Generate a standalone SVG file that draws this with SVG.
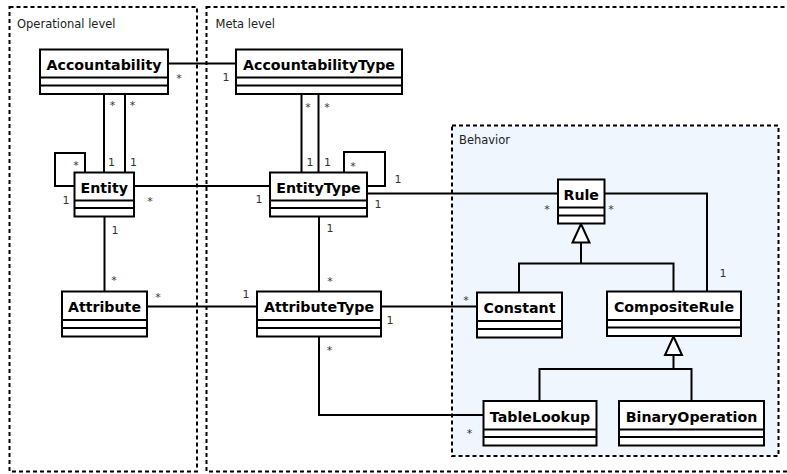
<svg xmlns="http://www.w3.org/2000/svg" width="787" height="474" viewBox="0 0 787 474">
  <style>
    .frame { fill: none; stroke: #000; stroke-width: 2; stroke-dasharray: 4 3; }
    .behavior { fill: #eff6fd; stroke: #000; stroke-width: 2; stroke-dasharray: 4 3; }
    .flabel { font-family: "DejaVu Sans", sans-serif; font-size: 11.5px; fill: #222; }
    .box { fill: #fff; stroke: #000; stroke-width: 2; }
    .sep { stroke: #000; stroke-width: 2; }
    .name { font-family: "DejaVu Sans", sans-serif; font-weight: bold; font-size: 14.2px; fill: #000; text-anchor: middle; }
    .conn path { fill: none; stroke: #000; stroke-width: 2; }
    .conn polygon { fill: #fff; stroke: #000; stroke-width: 2; }
    .mult { font-family: "DejaVu Sans", sans-serif; font-size: 11px; fill: #333; text-anchor: middle; }
  </style>

  <!-- package frames -->
  <g id="operational-level">
    <rect class="frame" x="9.5" y="7" width="187.5" height="464.5"/>
    <text class="flabel" x="17" y="28">Operational level</text>
  </g>
  <g id="meta-level">
    <rect class="frame" x="206.5" y="7" width="590" height="464.5"/>
    <text class="flabel" x="215.5" y="28">Meta level</text>
  </g>
  <g id="behavior">
    <rect class="behavior" x="452" y="125.5" width="326.5" height="330.5"/>
    <text class="flabel" x="459" y="144">Behavior</text>
  </g>

  <!-- connectors -->
  <g id="connectors" class="conn">
    <path d="M168,63.5 H236"/>
    <path d="M104,94 V172.5"/>
    <path d="M125,94 V172.5"/>
    <path d="M74.5,186 H55 V153 H85 V172.5"/>
    <path d="M134,186 H270"/>
    <path d="M301.5,94 V172.5"/>
    <path d="M318.5,94 V172.5"/>
    <path d="M344,172.5 V152 H385 V186 H367"/>
    <path d="M367,193.5 H558"/>
    <path d="M104.5,216.5 V291.5"/>
    <path d="M147,306.5 H257"/>
    <path d="M319,216.5 V291.5"/>
    <path d="M381,306.5 H477"/>
    <path d="M319,336.5 V415 H483.5"/>
    <path d="M604.5,193.5 H707 V291.5"/>
    <!-- generalization: Constant, CompositeRule -> Rule -->
    <path d="M581,242.5 V263.5 M519,292.5 V263.5 H673.5 V291.5"/>
    <polygon points="581,224 572.5,242.5 589.5,242.5"/>
    <!-- generalization: TableLookup, BinaryOperation -> CompositeRule -->
    <path d="M673.5,355 V369 M539.5,401 V369 H691.5 V401"/>
    <polygon points="673.5,336.5 665,355 682,355"/>

    <!-- multiplicities -->
    <text class="mult" x="179" y="82">*</text>
    <text class="mult" x="226" y="81">1</text>
    <text class="mult" x="112.5" y="109">*</text>
    <text class="mult" x="132.5" y="109">*</text>
    <text class="mult" x="111.5" y="166">1</text>
    <text class="mult" x="133.5" y="166">1</text>
    <text class="mult" x="76" y="169">*</text>
    <text class="mult" x="66" y="204">1</text>
    <text class="mult" x="150" y="205">*</text>
    <text class="mult" x="259" y="203">1</text>
    <text class="mult" x="308" y="111">*</text>
    <text class="mult" x="327" y="111">*</text>
    <text class="mult" x="310" y="166">1</text>
    <text class="mult" x="327.5" y="166">1</text>
    <text class="mult" x="353" y="170">*</text>
    <text class="mult" x="398" y="183">1</text>
    <text class="mult" x="378" y="208">1</text>
    <text class="mult" x="547" y="213">*</text>
    <text class="mult" x="611" y="213">*</text>
    <text class="mult" x="723" y="277">1</text>
    <text class="mult" x="115" y="234">1</text>
    <text class="mult" x="114" y="284">*</text>
    <text class="mult" x="158" y="301">*</text>
    <text class="mult" x="246" y="298">1</text>
    <text class="mult" x="330" y="232">1</text>
    <text class="mult" x="330" y="285">*</text>
    <text class="mult" x="390" y="324">1</text>
    <text class="mult" x="466" y="304">*</text>
    <text class="mult" x="329.5" y="354">*</text>
    <text class="mult" x="469.5" y="437">*</text>
  </g>

  <!-- classes -->
  <g id="Accountability">
    <rect class="box" x="40" y="49.5" width="128" height="44.5"/>
    <path class="sep" d="M40,77.5 H168 M40,85.5 H168"/>
    <text class="name" x="104" y="70">Accountability</text>
  </g>
  <g id="AccountabilityType">
    <rect class="box" x="236" y="49.5" width="166" height="44.5"/>
    <path class="sep" d="M236,77.5 H402 M236,85.5 H402"/>
    <text class="name" x="319" y="70">AccountabilityType</text>
  </g>
  <g id="Entity">
    <rect class="box" x="74.5" y="172.5" width="59.5" height="44"/>
    <path class="sep" d="M74.5,200.5 H134 M74.5,208 H134"/>
    <text class="name" x="104.25" y="193">Entity</text>
  </g>
  <g id="EntityType">
    <rect class="box" x="270" y="172.5" width="97" height="44"/>
    <path class="sep" d="M270,200.5 H367 M270,208 H367"/>
    <text class="name" x="318.5" y="193">EntityType</text>
  </g>
  <g id="Attribute">
    <rect class="box" x="62" y="291.5" width="85" height="45"/>
    <path class="sep" d="M62,320 H147 M62,328 H147"/>
    <text class="name" x="104.5" y="312">Attribute</text>
  </g>
  <g id="AttributeType">
    <rect class="box" x="257" y="291.5" width="124" height="45"/>
    <path class="sep" d="M257,320 H381 M257,328 H381"/>
    <text class="name" x="319" y="312">AttributeType</text>
  </g>
  <g id="Rule">
    <rect class="box" x="558" y="179.5" width="46.5" height="44"/>
    <path class="sep" d="M558,207.5 H604.5 M558,215.5 H604.5"/>
    <text class="name" x="581.25" y="200">Rule</text>
  </g>
  <g id="Constant">
    <rect class="box" x="477" y="292.5" width="85" height="45"/>
    <path class="sep" d="M477,321 H562 M477,329 H562"/>
    <text class="name" x="519.5" y="313">Constant</text>
  </g>
  <g id="CompositeRule">
    <rect class="box" x="607" y="291.5" width="134" height="44.5"/>
    <path class="sep" d="M607,320 H741 M607,327.5 H741"/>
    <text class="name" x="674" y="312">CompositeRule</text>
  </g>
  <g id="TableLookup">
    <rect class="box" x="483.5" y="401" width="113" height="44.5"/>
    <path class="sep" d="M483.5,429.5 H596.5 M483.5,437 H596.5"/>
    <text class="name" x="540" y="421.5">TableLookup</text>
  </g>
  <g id="BinaryOperation">
    <rect class="box" x="619" y="401" width="145" height="44.5"/>
    <path class="sep" d="M619,429.5 H764 M619,437 H764"/>
    <text class="name" x="691.5" y="421.5">BinaryOperation</text>
  </g>
</svg>
